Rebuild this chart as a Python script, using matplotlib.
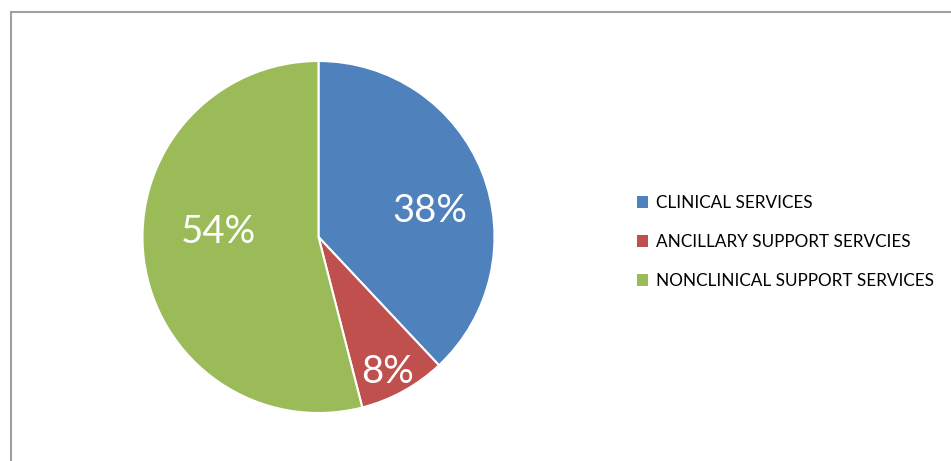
import matplotlib.pyplot as plt
import numpy as np
from matplotlib.patches import Rectangle

plt.rcParams['font.family'] = ['Lato', 'DejaVu Sans']

categories = ['CLINICAL SERVICES', 'ANCILLARY SUPPORT SERVCIES', 'NONCLINICAL SUPPORT SERVICES']
shares = [38, 8, 54]
colors = ['#4f81bd', '#c0504d', '#9bbb59']

# where each percentage sits inside the pie (fraction of radius, angle in degrees)
label_spots = [(0.65, 13), (0.86, -63), (0.57, 177)]

W, H = 951, 461
fig = plt.figure(figsize=(W / 100, H / 100), dpi=100)

# chart frame, right and bottom edges run off the image
fig.patches.append(Rectangle((10.5 / W, -0.2), 2.0, 1.2 - 11.5 / H,
                             transform=fig.transFigure, fill=False,
                             edgecolor='#a0a0a0', linewidth=1.5))

cx, cy, r = 318.5, 237, 176
ax = fig.add_axes([(cx - r) / W, (H - cy - r) / H, 2 * r / W, 2 * r / H])
ax.set_aspect('equal')

wedges, texts, autotexts = ax.pie(
    shares, colors=colors, startangle=90, counterclock=False, radius=1,
    autopct='%1.0f%%', pctdistance=0.6,
    wedgeprops=dict(edgecolor='white', linewidth=1.5),
    textprops=dict(color='white', fontsize=27.5))
ax.set_xlim(-1, 1)
ax.set_ylim(-1, 1)

for t, (d, a) in zip(autotexts, label_spots):
    t.set_position((d * np.cos(np.radians(a)), d * np.sin(np.radians(a))))

# legend swatches without the white wedge outline
leg = fig.legend(wedges, categories, loc='center left',
                 bbox_to_anchor=(622 / W, 1 - 242 / H), frameon=False,
                 fontsize=12.3, handlelength=0.65, handleheight=0.65,
                 handletextpad=0.45, labelspacing=1.35)
for h in leg.legend_handles:
    h.set_linewidth(0)

fig.savefig('out.png', dpi=100, facecolor='white')
